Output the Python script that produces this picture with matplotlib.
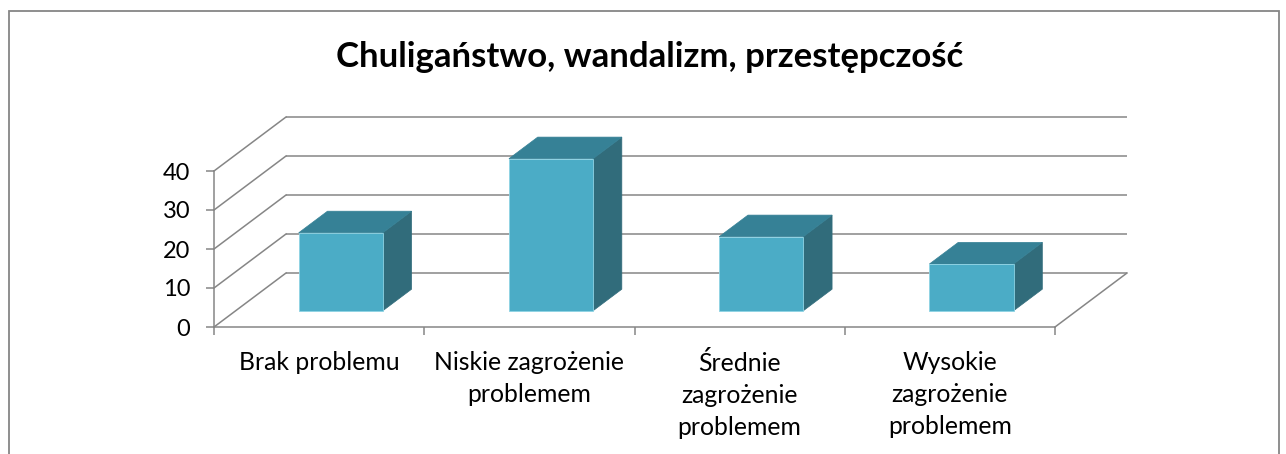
import matplotlib
matplotlib.use("Agg")
import matplotlib.pyplot as plt
from matplotlib.patches import Polygon, Rectangle

categories = ["Brak problemu", "Niskie zagrożenie\nproblemem",
              "Średnie\nzagrożenie\nproblemem", "Wysokie\nzagrożenie\nproblemem"]
values = [20, 39, 19, 12]
yticks = [0, 10, 20, 30, 40]
title = "Chuligaństwo, wandalizm, przestępczość"

FONT = "Lato"
W, H = 1286, 454
fig = plt.figure(figsize=(W / 100, H / 100), dpi=100)

# front plane of the plot in pixels
x0p, x1p, y0p, y1p = 214, 1055, 327, 171
ax = fig.add_axes([x0p / W, 1 - y0p / H, (x1p - x0p) / W, (y0p - y1p) / H])
n = len(categories)
ax.set_xlim(0, n)
ax.set_ylim(0, 40)

# oblique depth offset (data units) for full depth
DX = 72 / ((x1p - x0p) / n)
DY = 54 / ((y0p - y1p) / 40)

grid_c = "#868686"
glw = 1.1

for s in ["top", "right"]:
    ax.spines[s].set_visible(False)
for s in ["left", "bottom"]:
    ax.spines[s].set_color(grid_c)
    ax.spines[s].set_linewidth(glw)

ax.set_yticks(yticks)
ax.set_yticklabels([str(t) for t in yticks], fontsize=17, family=FONT)
ax.tick_params(axis="y", length=6, width=glw, color=grid_c, pad=11)
ax.set_xticks(range(n + 1))
ax.set_xticklabels([])
ax.tick_params(axis="x", which="major", length=6, width=glw, color=grid_c)
ax.set_xticks([i + 0.5 for i in range(n)], minor=True)
ax.set_xticklabels(categories, minor=True, fontsize=17.8, family=FONT,
                   linespacing=1.47, va="top")
ax.tick_params(axis="x", which="minor", length=0, pad=17.5)
ax.set_facecolor("none")

# back wall grid lines and left wall diagonals
for t in yticks:
    ax.plot([DX, n + DX], [t + DY, t + DY], color=grid_c, lw=glw,
            clip_on=False, zorder=1, solid_capstyle="butt")
    ax.plot([0, DX], [t, t + DY], color=grid_c, lw=glw, clip_on=False, zorder=1)
# right floor edge
ax.plot([n, n + DX], [0, DY], color=grid_c, lw=glw, clip_on=False, zorder=1)

# 3D bars
d1, d2 = 0.3, 0.7
bw = 0.4
c_front = "#4BACC6"
c_top = "#368196"
c_side = "#316C7B"
for i, v in enumerate(values):
    xl = i + 0.5 - bw / 2
    xr = i + 0.5 + bw / 2
    ox1, oy1 = d1 * DX, d1 * DY
    ox2, oy2 = d2 * DX, d2 * DY
    front = [(xl + ox1, oy1), (xr + ox1, oy1), (xr + ox1, v + oy1), (xl + ox1, v + oy1)]
    top = [(xl + ox1, v + oy1), (xr + ox1, v + oy1), (xr + ox2, v + oy2), (xl + ox2, v + oy2)]
    side = [(xr + ox1, oy1), (xr + ox2, oy2), (xr + ox2, v + oy2), (xr + ox1, v + oy1)]
    ax.add_patch(Polygon(side, closed=True, fc=c_side, ec=c_side, lw=0.5,
                         clip_on=False, zorder=3))
    ax.add_patch(Polygon(top, closed=True, fc=c_top, ec=c_top, lw=0.5,
                         clip_on=False, zorder=3))
    ax.add_patch(Polygon(front, closed=True, fc=c_front, ec="#8ED3E4", lw=0.6,
                         clip_on=False, zorder=4))

fig.text(650 / W, 1 - 57 / H, title, ha="center", va="center",
         fontsize=25, fontweight="bold", family=FONT)

# outer chart border
fig.add_artist(Rectangle((8.5 / W, -0.1), (1279 - 8.5) / W, 1.1 - 11.5 / H,
                         transform=fig.transFigure, fill=False,
                         ec=grid_c, lw=1.3))

fig.savefig("out.png", dpi=100)
